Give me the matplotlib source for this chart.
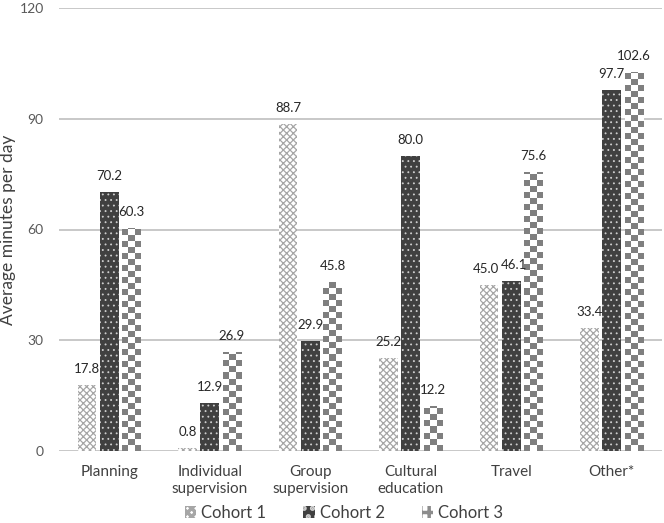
import matplotlib
matplotlib.use("Agg")
import matplotlib.pyplot as plt
import matplotlib.patches as mpatches
from matplotlib.colors import ListedColormap
import numpy as np

categories = ["Planning", "Individual\nsupervision", "Group\nsupervision", "Cultural\neducation", "Travel", "Other*"]
series_names = ["Cohort 1", "Cohort 2", "Cohort 3"]
cohort1 = [17.8, 0.8, 88.7, 25.2, 45.0, 33.4]
cohort2 = [70.2, 12.9, 29.9, 80.0, 46.1, 97.7]
cohort3 = [60.3, 26.9, 45.8, 12.2, 75.6, 102.6]
yticks = [0, 30, 60, 90, 120]

plt.rcParams['font.family'] = ['Lato', 'DejaVu Sans']

W, H = 664, 523
fig = plt.figure(figsize=(W / 100, H / 100), dpi=100)
ax_l, ax_b, ax_r, ax_t = 59, 451, 662, 8
ax = fig.add_axes([ax_l / W, 1 - ax_b / H, (ax_r - ax_l) / W, (ax_b - ax_t) / H])

x = np.arange(len(categories))
w = 0.185
pitch = 0.222
ymax = 120
px_per_unit = (ax_b - ax_t) / ymax

plt.rcParams['hatch.linewidth'] = 0.9
b1 = ax.bar(x - pitch, cohort1, w, facecolor="white", edgecolor="#a6a6a6", hatch="xxxxx",
            linewidth=0, zorder=3)
plt.rcParams['hatch.linewidth'] = 0.6
b2 = ax.bar(x, cohort2, w, facecolor="#404040", edgecolor="#cfcfcf", hatch="...",
            linewidth=0, zorder=3)
b3 = ax.bar(x + pitch, cohort3, w, facecolor="white", edgecolor="none",
            linewidth=0, zorder=3)

# checkerboard fill for cohort 3
checker_cmap = ListedColormap(["white", "#7f7f7f"])
cell_h = 6.0 / px_per_unit
for b in b3:
    x0 = b.get_x()
    x1 = x0 + b.get_width()
    h = b.get_height()
    nrows = int(np.ceil(h / cell_h)) + 1
    ii, jj = np.indices((nrows, 3))
    checker = ((ii + jj) % 2 == 0).astype(float)
    im = ax.imshow(checker, cmap=checker_cmap, vmin=0, vmax=1, origin="lower",
                   extent=(x0, x1, 0, nrows * cell_h), aspect="auto",
                   interpolation="nearest", zorder=3.5)
    im.set_clip_path(b)

for k, (bars, vals) in enumerate(((b1, cohort1), (b2, cohort2), (b3, cohort3))):
    for j, (b, v) in enumerate(zip(bars, vals)):
        dx = 0
        if k == 0 and abs(cohort1[j] - cohort2[j]) < 4:
            dx = -2
        elif k == 1 and abs(cohort1[j] - cohort2[j]) < 4:
            dx = 2
        ax.annotate(f"{v:.1f}", (b.get_x() + b.get_width() / 2, v), xytext=(dx, 11.5),
                    textcoords="offset points", ha="center", va="center",
                    fontsize=9.5, color="#262626", zorder=4)

ax.set_ylim(0, ymax)
ax.set_xlim(-0.5, len(categories) - 0.5)
ax.set_yticks(yticks)
ax.set_xticks(x)
ax.set_xticklabels(categories, fontsize=11, color="#404040", linespacing=1.25)
ax.tick_params(axis="x", length=0, pad=10)
ax.tick_params(axis="y", length=0, labelsize=10, labelcolor="#595959", pad=11)
ax.yaxis.grid(True, color="#bfbfbf", linewidth=1.2, zorder=0)
for s in ax.spines.values():
    s.set_visible(False)
ax.set_ylabel("Average minutes per day", fontsize=12.5, color="#404040")
ax.yaxis.set_label_coords((16 - ax_l) / (ax_r - ax_l), 0.5)

# legend
plt.rcParams['hatch.linewidth'] = 0.9
h1 = mpatches.Patch(facecolor="white", edgecolor="#a6a6a6", hatch="xxxx", linewidth=0)
plt.rcParams['hatch.linewidth'] = 0.6
h2 = mpatches.Patch(facecolor="#404040", edgecolor="#cfcfcf", hatch="..", linewidth=0)
plt.rcParams['hatch.linewidth'] = 2.5
h3 = mpatches.Patch(facecolor="white", edgecolor="#8c8c8c", hatch="++", linewidth=0)
leg = fig.legend([h1, h2, h3], series_names, loc="center", bbox_to_anchor=(344 / W, 1 - 513 / H),
                 ncol=3, frameon=False, fontsize=12, handlelength=0.7, handleheight=0.7,
                 handletextpad=0.3, columnspacing=2.2, borderaxespad=0)
for t in leg.get_texts():
    t.set_color("#404040")

fig.savefig("out.png", dpi=100)
